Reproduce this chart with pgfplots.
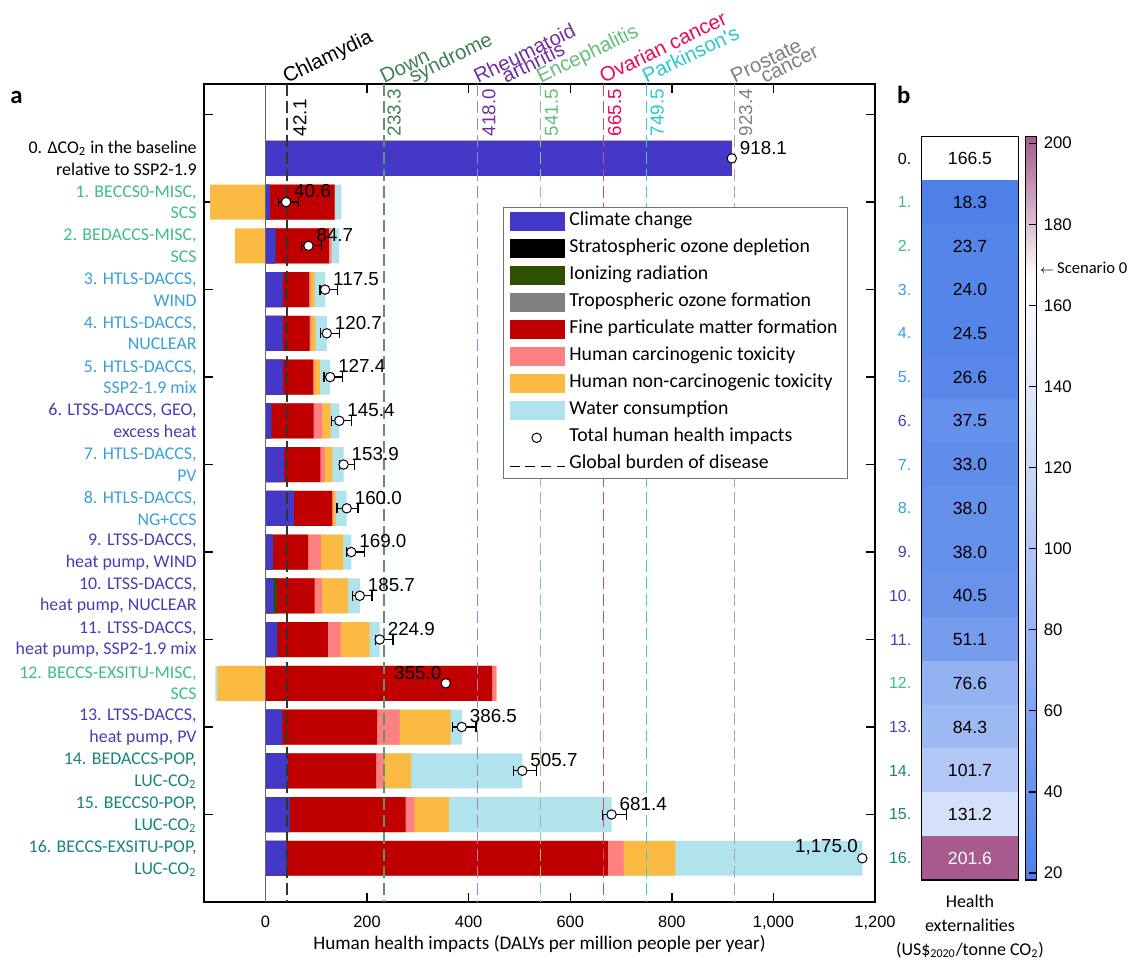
\documentclass[border=0pt]{standalone}
\usepackage{pgfplots}
\pgfplotsset{compat=1.18}
\usepackage{pgfplotstable}
\usepackage{fontspec}
\setmainfont{Carlito}
\newfontfamily\arial{Liberation Sans}

\definecolor{ccC}{RGB}{67,56,200}
\definecolor{ccS}{RGB}{0,0,0}
\definecolor{ccI}{RGB}{44,80,0}
\definecolor{ccT}{RGB}{128,128,128}
\definecolor{ccF}{RGB}{192,0,0}
\definecolor{ccHC}{RGB}{255,128,128}
\definecolor{ccHN}{RGB}{251,186,66}
\definecolor{ccW}{RGB}{176,227,236}
\definecolor{labGreen}{RGB}{61,190,132}
\definecolor{labBlue}{RGB}{55,160,220}
\definecolor{labPurple}{RGB}{74,60,180}
\definecolor{labTeal}{RGB}{23,133,122}
\definecolor{tDown}{RGB}{60,130,80}
\definecolor{lDown}{RGB}{90,150,105}
\definecolor{tRheu}{RGB}{112,48,160}
\definecolor{lRheu}{RGB}{165,125,210}
\definecolor{tEnce}{RGB}{100,190,120}
\definecolor{lEnce}{RGB}{125,205,140}
\definecolor{tOvar}{RGB}{230,10,80}
\definecolor{lOvar}{RGB}{215,70,120}
\definecolor{tPark}{RGB}{40,200,210}
\definecolor{lPark}{RGB}{60,205,215}
\definecolor{tPros}{RGB}{128,128,128}
\definecolor{lPros}{RGB}{165,165,165}

% cumulative end of each coloured segment (left to right), negative parts separately
\pgfplotstableread{
y  C      I      F      HC     HN     W      NegW   NegHN
0  918.1  918.1  918.1  918.1  918.1  918.1  0      0
1  8.5    8.5    136    136    136    149.5  0      -109
2  20     20     125    130    130    145    0      -60
3  34.7   34.7   86     89     97     117.5  0      0
4  34.7   34.7   87     90     99     120.7  0      0
5  34.7   34.7   93.7   96.8   107    127.4  0      0
6  11.8   11.8   95     111.4  128.5  145.4  0      0
7  36.7   36.7   108    116.7  131.8  153.9  0      0
8  55.7   55.7   131    133    138    160    0      0
9  15     15     84     109    153    169    0      0
10 16.3   22.9   97     111.4  162.6  185.7  0      0
11 22.9   23.8   123    148    205    224.9  0      0
12 0      0      446    454.5  454.5  454.5  -98.5  -94.5
13 33.4   33.4   219.6  264    364.6  386.5  0      0
14 44.5   44.5   218    234.7  287    505.7  0      0
15 47.8   47.8   276    293.7  361    681.4  0      0
16 41.3   41.3   674    705    807    1175   0      0
}\bars

\pgfplotstableread{
y  tot
0  918.1
1  40.6
2  84.7
3  117.5
4  120.7
5  127.4
6  145.4
7  153.9
8  160.0
9  169.0
10 185.7
11 224.9
13 386.5
14 505.7
15 681.4
}\totR

\pgfplotstableread{
y  tot
12 355.0
16 1175.0
}\totL

\pgfplotstableread{
y  tot    em   ep
1  40.6   15   25
2  84.7   13   26
3  117.5  10   25
4  120.7  12   25
5  127.4  12   24
6  145.4  15   24
7  153.9  8    22
8  160.0  19   22
9  169.0  10   26
10 185.7  14   24
11 224.9  8    26
13 386.5  19   28
14 505.7  17   28
15 681.4  18   29
}\errtot

\pgfplotstableread{
x y  v
0 0  166.5
0 1  18.3
0 2  23.7
0 3  24.0
0 4  24.5
0 5  26.6
0 6  37.5
0 7  33.0
0 8  38.0
0 9  38.0
0 10 40.5
0 11 51.1
0 12 76.6
0 13 84.3
0 14 101.7
0 15 131.2
0 16 201.6
}\heat
\pgfplotstableread{
x y  v
0 0  166.5
0 1  18.3
0 2  23.7
0 3  24.0
0 4  24.5
0 5  26.6
0 6  37.5
0 7  33.0
0 8  38.0
0 9  38.0
0 10 40.5
0 11 51.1
0 12 76.6
0 13 84.3
0 14 101.7
0 15 131.2
}\heatA
\pgfplotstableread{
x y  v
0 16 201.6
}\heatB

\tikzset{
  cat/.style={anchor=east, align=right, inner sep=0pt, xshift=-3.5pt, font=\fontsize{8.95}{10.8}\selectfont},
  dis/.style={rotate=26, anchor=base west, inner sep=0pt, font=\arial\fontsize{10.2}{11}\selectfont},
  val/.style={rotate=90, anchor=north west, inner sep=0pt, font=\arial\fontsize{9.4}{10}\selectfont},
  rowlab/.style={anchor=east, inner sep=0pt, xshift=-5pt, font=\arial\fontsize{8}{9}\selectfont},
}
\pgfplotsset{
  swatch/.style={legend image code/.code={\path[draw=none,fill=none] (0pt,-2pt) rectangle (27.5pt,2pt); \fill[#1,draw=none,overlay] (0pt,-4.8pt) rectangle (27.5pt,4.8pt);}},
  segbar/.style={xbar, bar width=0.8, bar shift=0pt, fill=#1, draw=none, forget plot},
}

\begin{document}
\begin{tikzpicture}
\path[use as bounding box] (0pt,0pt) rectangle (566pt,480.5pt);

\begin{axis}[
  at={(102pt,29.5pt)}, anchor=south west, scale only axis,
  width=335.5pt, height=409pt,
  xmin=-121, xmax=1200, ymin=-1.7, ymax=17, y dir=reverse,
  clip=false,
  axis line style={line width=0.7pt},
  tick style={black, line width=0.7pt},
  tick align=inside, tick pos=both,
  major tick length=4.5pt,
  xtick={0,200,...,1200},
  ytick={-1,1,...,15}, yticklabels={},
  /pgf/number format/assume math mode=true,
  xticklabel style={font=\arial\fontsize{8.2}{9}\selectfont, yshift=-3.5pt},
  xlabel={Human health impacts (DALYs per million people per year)},
  xlabel style={at={(axis description cs:0.5,0)}, anchor=center, yshift=-21pt, font=\fontsize{9.6}{11}\selectfont},
  legend style={at={(0.446,0.850)}, anchor=north west, draw=black!55, line width=0.5pt, fill=white,
    font=\fontsize{9.9}{11}\selectfont, inner xsep=2.8pt, inner ysep=2pt, row sep=3.5pt,
    nodes={inner xsep=2pt, inner ysep=0pt, text height=7.4pt, text depth=2.6pt}},
  legend cell align=left,
]
\addlegendimage{swatch=ccC}\addlegendentry{Climate change}
\addlegendimage{swatch=ccS}\addlegendentry{Stratospheric ozone depletion}
\addlegendimage{swatch=ccI}\addlegendentry{Ionizing radiation}
\addlegendimage{swatch=ccT}\addlegendentry{Tropospheric ozone formation}
\addlegendimage{swatch=ccF}\addlegendentry{Fine particulate matter formation}
\addlegendimage{swatch=ccHC}\addlegendentry{Human carcinogenic toxicity}
\addlegendimage{swatch=ccHN}\addlegendentry{Human non-carcinogenic toxicity}
\addlegendimage{swatch=ccW}\addlegendentry{Water consumption}
\addlegendimage{legend image code/.code={\path[draw=none,fill=none] (0pt,-2pt) rectangle (27.5pt,2pt); \draw[black, fill=white, line width=0.5pt] (13.4pt,-0.3pt) circle (2.35pt);}}\addlegendentry{Total human health impacts}
\addlegendimage{legend image code/.code={\path[draw=none,fill=none] (0pt,-2pt) rectangle (27.5pt,2pt); \draw[black, line width=0.5pt, dash pattern=on 5pt off 2.8pt] (0pt,-1.2pt) -- (27.5pt,-1.2pt);}}\addlegendentry{Global burden of disease}

% bars (cumulative segment ends, outermost first)
\addplot[segbar=ccW]  table[x=W,  y=y] {\bars};
\addplot[segbar=ccHN] table[x=HN, y=y] {\bars};
\addplot[segbar=ccHC] table[x=HC, y=y] {\bars};
\addplot[segbar=ccF]  table[x=F,  y=y] {\bars};
\addplot[segbar=ccI]  table[x=I,  y=y] {\bars};
\addplot[segbar=ccC]  table[x=C,  y=y] {\bars};
\addplot[segbar=ccW]  table[x=NegW,  y=y] {\bars};
\addplot[segbar=ccHN] table[x=NegHN, y=y] {\bars};

% zero line and burden-of-disease lines
\addplot[black!60, line width=0.6pt, forget plot] coordinates {(0,-1.7) (0,17)};
\addplot[black!80, line width=0.9pt, dash pattern=on 6pt off 2.5pt, forget plot] coordinates {(42.1,-1.7) (42.1,17)};
\addplot[lDown, line width=0.6pt, dash pattern=on 6pt off 2.5pt, forget plot] coordinates {(233.3,-1.7) (233.3,17)};
\addplot[lRheu, line width=0.6pt, dash pattern=on 6pt off 2.5pt, forget plot] coordinates {(418.0,-1.7) (418.0,17)};
\addplot[lEnce, line width=0.6pt, dash pattern=on 6pt off 2.5pt, forget plot] coordinates {(541.5,-1.7) (541.5,17)};
\addplot[lOvar, line width=0.6pt, dash pattern=on 6pt off 2.5pt, forget plot] coordinates {(665.5,-1.7) (665.5,17)};
\addplot[lPark, line width=0.6pt, dash pattern=on 6pt off 2.5pt, forget plot] coordinates {(749.5,-1.7) (749.5,17)};
\addplot[lPros, line width=0.6pt, dash pattern=on 6pt off 2.5pt, forget plot] coordinates {(923.4,-1.7) (923.4,17)};

% totals
\addplot[only marks, mark=*, mark size=2.35pt, mark options={fill=white, draw=black, line width=0.5pt}, forget plot,
  point meta=x,
  nodes near coords={\pgfmathprintnumber[fixed,fixed zerofill,precision=1,assume math mode=true]{\pgfplotspointmeta}},
  every node near coord/.append style={anchor=south west, xshift=3.8pt, yshift=1.8pt, inner sep=0pt, text=black, font=\arial\fontsize{9.4}{10}\selectfont}]
  table[x=tot, y=y] {\totR};
\addplot[only marks, mark=*, mark size=2.35pt, mark options={fill=white, draw=black, line width=0.5pt}, forget plot,
  point meta=x,
  nodes near coords={\pgfmathprintnumber[fixed,fixed zerofill,precision=1,assume math mode=true]{\pgfplotspointmeta}},
  every node near coord/.append style={anchor=south east, xshift=-2pt, yshift=1.6pt, inner sep=0pt, text=black, font=\arial\fontsize{9.4}{10}\selectfont}]
  table[x=tot, y=y] {\totL};
\addplot[draw=none, mark=none, forget plot,
  error bars/.cd, x dir=both, x explicit, error mark=|,
  error bar style={draw=black, solid, line width=0.6pt},
  error mark options={draw=black, solid, line width=0.6pt, mark size=2.5pt}]
  table[x=tot, y=y, x error plus=ep, x error minus=em] {\errtot};

% burden-of-disease labels
\node[dis, text=black] at (axis cs:42.1,-1.7) {Chlamydia};
\node[dis, text=tDown] at (axis cs:233.3,-1.7) {Down};
\node[dis, text=tDown] at ([xshift=14.5pt]axis cs:233.3,-1.7) {syndrome};
\node[dis, text=tRheu] at (axis cs:418.0,-1.7) {Rheumatoid};
\node[dis, text=tRheu] at ([xshift=14pt]axis cs:418.0,-1.7) {arthritis};
\node[dis, text=tEnce] at (axis cs:541.5,-1.7) {Encephalitis};
\node[dis, text=tOvar] at (axis cs:665.5,-1.7) {Ovarian cancer};
\node[dis, text=tPark] at (axis cs:749.5,-1.7) {Parkinson's};
\node[dis, text=tPros] at (axis cs:923.4,-1.7) {Prostate};
\node[dis, text=tPros] at ([xshift=15pt]axis cs:923.4,-1.7) {cancer};
\node[val, text=black] at ([xshift=3pt]axis cs:42.1,-0.5) {42.1};
\node[val, text=tDown] at ([xshift=1.6pt]axis cs:233.3,-0.5) {233.3};
\node[val, text=tRheu] at ([xshift=2pt]axis cs:418.0,-0.5) {418.0};
\node[val, text=tEnce] at ([xshift=2pt]axis cs:541.5,-0.5) {541.5};
\node[val, text=tOvar] at ([xshift=2pt]axis cs:665.5,-0.5) {665.5};
\node[val, text=tPark] at ([xshift=2pt]axis cs:749.5,-0.5) {749.5};
\node[val, text=tPros] at ([xshift=2pt]axis cs:923.4,-0.5) {923.4};

% scenario labels
\node[cat, text=black] at (axis cs:-121,0) {0. ΔCO\textsubscript{2} in the baseline\\relative to SSP2-1.9};
\node[cat, text=labGreen] at (axis cs:-121,1) {1. BECCS0-MISC,\\SCS};
\node[cat, text=labGreen] at (axis cs:-121,2) {2. BEDACCS-MISC,\\SCS};
\node[cat, text=labBlue] at (axis cs:-121,3) {3. HTLS-DACCS,\\WIND};
\node[cat, text=labBlue] at (axis cs:-121,4) {4. HTLS-DACCS,\\NUCLEAR};
\node[cat, text=labBlue] at (axis cs:-121,5) {5. HTLS-DACCS,\\SSP2-1.9 mix};
\node[cat, text=labPurple] at (axis cs:-121,6) {6. LTSS-DACCS, GEO,\\excess heat};
\node[cat, text=labBlue] at (axis cs:-121,7) {7. HTLS-DACCS,\\PV};
\node[cat, text=labBlue] at (axis cs:-121,8) {8. HTLS-DACCS,\\NG+CCS};
\node[cat, text=labPurple] at (axis cs:-121,9) {9. LTSS-DACCS,\\heat pump, WIND};
\node[cat, text=labPurple] at (axis cs:-121,10) {10. LTSS-DACCS,\\heat pump, NUCLEAR};
\node[cat, text=labPurple] at (axis cs:-121,11) {11. LTSS-DACCS,\\heat pump, SSP2-1.9 mix};
\node[cat, text=labGreen] at (axis cs:-121,12) {12. BECCS-EXSITU-MISC,\\SCS};
\node[cat, text=labPurple] at (axis cs:-121,13) {13. LTSS-DACCS,\\heat pump, PV};
\node[cat, text=labTeal] at (axis cs:-121,14) {14. BEDACCS-POP,\\LUC-CO\textsubscript{2}};
\node[cat, text=labTeal] at (axis cs:-121,15) {15. BECCS0-POP,\\LUC-CO\textsubscript{2}};
\node[cat, text=labTeal] at (axis cs:-121,16) {16. BECCS-EXSITU-POP,\\LUC-CO\textsubscript{2}};
\end{axis}

\begin{axis}[
  name=heat,
  at={(460.85pt,40.5pt)}, anchor=south west, scale only axis,
  width=48.3pt, height=371.65pt,
  xmin=-0.5, xmax=0.5, ymin=-0.5, ymax=16.5, y dir=reverse,
  xtick=\empty, ytick=\empty, clip=false,
  axis line style={line width=0.7pt},
  colormap={health}{rgb255(0pt)=(78,128,232); rgb255(148.2pt)=(255,255,255); rgb255(183.3pt)=(166,90,142)},
  point meta min=18.3, point meta max=201.6,
  colorbar,
  colorbar style={
    at={(parent axis.north east)}, anchor=north west, xshift=-4.84pt,
    scale only axis, width=5.5pt, height=371.65pt,
    y dir=normal,
    ytick={20,40,...,200},
    ytick pos=right, yticklabel pos=right,
    tick align=inside, major tick length=3.8pt,
    tick style={black, line width=0.6pt},
    axis line style={line width=0.6pt},
    yticklabel style={font=\arial\fontsize{8.4}{9}\selectfont, /pgf/number format/assume math mode=true},
  },
]
% coloured cells
\addplot[scatter, only marks, mark=square*, mark size=10.93pt, point meta=explicit,
  scatter/use mapped color={draw=mapped color, fill=mapped color},
  every mark/.append style={xscale=2.21}]
  table[x=x, y=y, meta=v] {\heat};
% cell values
\addplot[draw=none, mark=none, point meta=explicit,
  nodes near coords={\pgfmathprintnumber[fixed,fixed zerofill,precision=1,assume math mode=true]{\pgfplotspointmeta}},
  nodes near coords align=center,
  every node near coord/.append style={anchor=center, text=black, font=\arial\fontsize{8.8}{9}\selectfont}]
  table[x=x, y=y, meta=v] {\heatA};
\addplot[draw=none, mark=none, point meta=explicit,
  nodes near coords={\pgfmathprintnumber[fixed,fixed zerofill,precision=1,assume math mode=true]{\pgfplotspointmeta}},
  nodes near coords align=center,
  every node near coord/.append style={anchor=center, text=white, font=\arial\fontsize{8.8}{9}\selectfont}]
  table[x=x, y=y, meta=v] {\heatB};

\node[rowlab, text=black] at (axis cs:-0.5,0) {0.};
\node[rowlab, text=labGreen] at (axis cs:-0.5,1) {1.};
\node[rowlab, text=labGreen] at (axis cs:-0.5,2) {2.};
\node[rowlab, text=labBlue] at (axis cs:-0.5,3) {3.};
\node[rowlab, text=labBlue] at (axis cs:-0.5,4) {4.};
\node[rowlab, text=labBlue] at (axis cs:-0.5,5) {5.};
\node[rowlab, text=labPurple] at (axis cs:-0.5,6) {6.};
\node[rowlab, text=labBlue] at (axis cs:-0.5,7) {7.};
\node[rowlab, text=labBlue] at (axis cs:-0.5,8) {8.};
\node[rowlab, text=labPurple] at (axis cs:-0.5,9) {9.};
\node[rowlab, text=labPurple] at (axis cs:-0.5,10) {10.};
\node[rowlab, text=labPurple] at (axis cs:-0.5,11) {11.};
\node[rowlab, text=labGreen] at (axis cs:-0.5,12) {12.};
\node[rowlab, text=labPurple] at (axis cs:-0.5,13) {13.};
\node[rowlab, text=labTeal] at (axis cs:-0.5,14) {14.};
\node[rowlab, text=labTeal] at (axis cs:-0.5,15) {15.};
\node[rowlab, text=labTeal] at (axis cs:-0.5,16) {16.};
\node[anchor=west, inner sep=0pt, font=\fontsize{8.3}{9}\selectfont] at ([xshift=10.5pt]axis cs:0.5,2.5) {$\scriptstyle\leftarrow$\,Scenario 0};
\end{axis}
\draw[line width=0.7pt] (heat.south west) rectangle (heat.north east);

\node[anchor=base west, inner sep=0pt, font=\bfseries\fontsize{12.4}{14}\selectfont] at (5pt,428.85pt) {a};
\node[anchor=base west, inner sep=0pt, font=\bfseries\fontsize{12.4}{14}\selectfont] at (448.35pt,428.85pt) {b};
\node[align=center, inner sep=0pt, font=\fontsize{9}{12}\selectfont] at (485pt,17pt) {Health\\externalities\\(US\$\textsubscript{2020}/tonne CO\textsubscript{2})};
\end{tikzpicture}
\end{document}
